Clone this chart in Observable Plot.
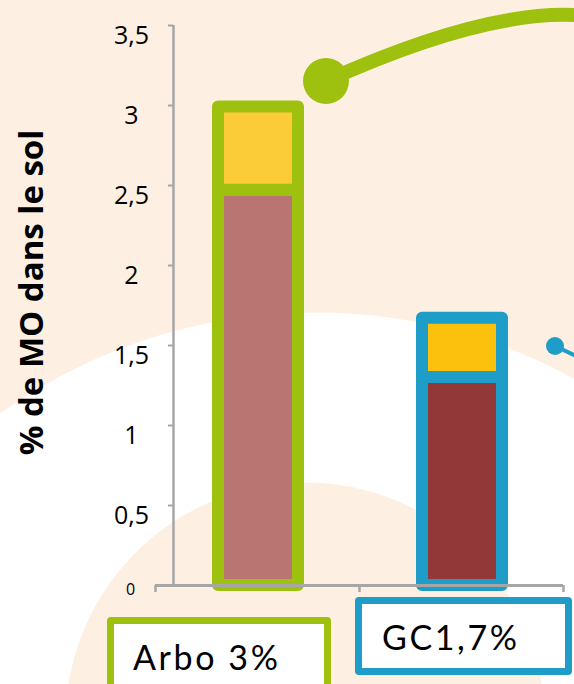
<!DOCTYPE html>
<html>
<head>
<meta charset="utf-8">
<script src="https://cdn.jsdelivr.net/npm/d3@7"></script>
<script src="https://cdn.jsdelivr.net/npm/@observablehq/plot@0.6"></script>
<style>
  html, body { margin: 0; padding: 0; background: #fdf0e2; }
  #wrap {
    position: relative; width: 574px; height: 684px; overflow: hidden;
    background:
      radial-gradient(circle 240px at 305px 722px, #fdf0e2 99.6%, rgba(253,240,226,0) 100%),
      radial-gradient(circle 541px at 315px 853px, #ffffff 99.8%, rgba(255,255,255,0) 100%),
      #fdf0e2;
  }
  #deco, #chart { position: absolute; left: 0; top: 0; }
  .lab {
    position: absolute; box-sizing: border-box; background: #fff;
    border: 7px solid; border-radius: 4px;
    font-family: Lato, "Open Sans", sans-serif; font-size: 34px; line-height: 34px;
    color: #000; letter-spacing: 2.6px; padding-top: 16px; white-space: nowrap;
  }
</style>
</head>
<body>
<div id="wrap">
  <svg id="deco" width="574" height="684">
    <path d="M326 81 C406 45 500 12 574 15" fill="none" stroke="#9dc10e" stroke-width="14" stroke-linecap="round"/>
    <circle cx="326" cy="81" r="23" fill="#9dc10e"/>
    <path d="M555 346 L576 356" stroke="#1e9dc8" stroke-width="4" fill="none"/>
    <circle cx="555" cy="346" r="9" fill="#1e9dc8"/>
  </svg>
  <div id="chart"></div>
</div>
<script>
// ---- data ----
const categories = ["Arbo", "GC"];
const categoryLabels = ["Arbo 3%", "GC1,7%"];
const lowerValues = [2.47, 1.30];
const upperValues = [0.52, 0.37];
const yTicks = [0, 0.5, 1, 1.5, 2, 2.5, 3, 3.5];
const yTickLabels = ["0", "0,5", "1", "1,5", "2", "2,5", "3", "3,5"];
const yTitle = "% de MO dans le sol";

// ---- styles ----
const lowerColors = ["#b87572", "#933838"];
const upperColors = ["#fccb38", "#fbc10c"];
const outlineColors = ["#9dc10e", "#1e9dc8"];
const axisGray = "#a6a6a6";
const labelBoxes = [
  {left: 107, top: 617, width: 224, height: 100, padLeft: 19},
  {left: 355, top: 597, width: 217, height: 78, padLeft: 20}
];

const rows = categories.flatMap((c, i) => [
  {i, y1: 0, y2: lowerValues[i], fill: lowerColors[i], stroke: outlineColors[i]},
  {i, y1: lowerValues[i], y2: lowerValues[i] + upperValues[i], fill: upperColors[i], stroke: outlineColors[i]}
]);

const tickRows = yTicks.map((v, k) => ({v, label: yTickLabels[k]}));

const chart = Plot.plot({
  width: 574,
  height: 684,
  marginLeft: 155,
  marginRight: 11,
  marginTop: 25,
  marginBottom: 99,
  style: {background: "transparent", overflow: "visible"},
  x: {domain: [0, 2], axis: null},
  y: {domain: [0, 3.5], axis: null},
  color: {type: "identity"},
  marks: [
    Plot.rectY(rows, {
      x1: d => d.i, x2: d => d.i + 1, y1: "y1", y2: "y2",
      fill: "fill", stroke: "stroke", strokeWidth: 12, strokeLinejoin: "round",
      insetLeft: 63, insetRight: 61
    }),
    Plot.axisY({ticks: yTicks, tickSize: 5, dx: 18, tickFormat: () => "", stroke: axisGray, strokeWidth: 2, label: null}),
    Plot.ruleX([0], {y1: 0, y2: 3.5, dx: 18, stroke: axisGray, strokeWidth: 2.5}),
    Plot.axisX({ticks: [0, 1, 2], tickSize: 7, tickFormat: () => "", stroke: axisGray, strokeWidth: 2.5, label: null}),
    Plot.ruleY([0], {stroke: axisGray, strokeWidth: 3}),
    Plot.text(tickRows.filter(d => d.v !== 0), {
      y: "v", text: "label", frameAnchor: "left", dx: -24, dy: 10,
      textAnchor: "middle", fontSize: 25, fontFamily: "'Open Sans', sans-serif", fill: "#000"
    }),
    Plot.text(tickRows.filter(d => d.v === 0), {
      y: "v", text: "label", frameAnchor: "left", dx: -25, dy: 4,
      textAnchor: "middle", fontSize: 16, fontFamily: "'Open Sans', sans-serif", fill: "#000"
    }),
    Plot.text([yTitle], {
      text: d => d, frameAnchor: "left", dx: -123, dy: -13, rotate: -90, textAnchor: "middle",
      fontSize: 33, fontWeight: "bold", fontFamily: "'Open Sans', sans-serif", fill: "#000"
    })
  ]
});
document.getElementById("chart").appendChild(chart);

const wrap = document.getElementById("wrap");
categoryLabels.forEach((t, i) => {
  const b = labelBoxes[i];
  const div = document.createElement("div");
  div.className = "lab";
  div.textContent = t;
  Object.assign(div.style, {
    left: b.left + "px", top: b.top + "px", width: b.width + "px", height: b.height + "px",
    paddingLeft: b.padLeft + "px", borderColor: outlineColors[i]
  });
  wrap.appendChild(div);
});
</script>
</body>
</html>
